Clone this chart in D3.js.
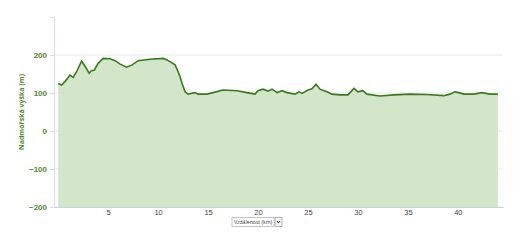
<!DOCTYPE html>
<html><head><meta charset="utf-8">
<script src="https://cdn.jsdelivr.net/npm/d3@7/dist/d3.min.js"></script>
<style>body{margin:0;background:#fff;}svg{display:block;font-family:"Open Sans","DejaVu Sans",sans-serif;}</style>
</head><body>
<svg id="c" width="520" height="240"></svg>
<script>
const distances = [0,0.34,0.67,1.0,1.17,1.5,1.84,2.34,2.67,3.1,3.34,3.6,4.0,4.5,5.2,5.7,6.2,6.85,7.4,8.0,9.2,10.5,10.9,11.7,12.0,12.2,12.4,12.7,13.0,13.7,14.0,14.9,15.5,16.5,17.9,18.9,19.7,20.0,20.5,21.0,21.4,21.9,22.4,22.9,23.7,24.1,24.4,25.0,25.4,25.8,26.2,26.9,27.4,28.2,29.0,29.6,30.0,30.5,30.9,32.2,33.6,35.2,36.9,38.6,39.2,39.7,40.1,40.6,41.6,42.4,43.2,44.0];
const elevations = [125,121,130,141,147,141,156,184,171,152,159,160,178,191,190,185,176,168,174,185,189,191,187,174,156,143,125,103,97,101,97,97,101,108,106,101,97,106,110,105,110,101,106,101,97,103,99,108,111,123,110,103,97,95,95,112,103,106,97,92,95,97,96,93,97,103,101,97,97,101,97,97];
const yTicks = [-200,-100,0,100,200];
const xTicks = [5,10,15,20,25,30,35,40];
const yTitle = "Nadmořská výška (m)";
const xTitle = "Vzdálenost (km)";

const svg = d3.select("#c");
const pL = 54, pR = 503, pT = 17, pB = 207;
const x = d3.scaleLinear().domain([-0.42, 44.52]).range([pL, pR]);
const y = d3.scaleLinear().domain([-200, 300]).range([pB, pT]);
const green = "#558a35";

// gridlines
svg.append("g").selectAll("line").data(yTicks).join("line")
  .attr("x1", pL).attr("x2", pR)
  .attr("y1", d => y(d)).attr("y2", d => y(d))
  .attr("stroke", "#e8e8e8").attr("stroke-width", 1);

const pts = distances.map((d,i) => [d, elevations[i]]);
svg.append("path").datum(pts)
  .attr("d", d3.area().x(d => x(d[0])).y0(y(-200)).y1(d => y(d[1])))
  .attr("fill", "#d3e6c9");
svg.append("path").datum(pts)
  .attr("d", d3.line().x(d => x(d[0])).y(d => y(d[1])))
  .attr("fill", "none").attr("stroke", "#3a7a1e").attr("stroke-width", 1.6);

// y axis
const ya = svg.append("g").attr("transform", `translate(${pL},0)`)
  .call(d3.axisLeft(y).tickValues(yTicks).tickSize(4).tickPadding(3).tickFormat(d3.format("d")));
ya.select(".domain").attr("stroke", "#d8dde6");
ya.selectAll(".tick line").attr("stroke", "#d8dde6");
ya.selectAll("text").attr("fill", green).attr("font-size", 8).attr("font-weight", "bold");

// x axis
const xa = svg.append("g").attr("transform", `translate(0,${pB})`)
  .call(d3.axisBottom(x).tickValues(xTicks).tickSize(0).tickPadding(3));
xa.select(".domain").attr("stroke", "#c8d4e0");
xa.selectAll("text").attr("fill", "#444").attr("font-size", 7.5);

// y title
svg.append("text").attr("transform", `translate(24,${y(50)}) rotate(-90)`)
  .attr("text-anchor", "middle").attr("fill", green).attr("font-size", 7).attr("font-weight", "bold")
  .text(yTitle);

// x title select box
const bx = 232, by = 217.5;
svg.append("rect").attr("x", bx).attr("y", by).attr("width", 42).attr("height", 9)
  .attr("fill", "#fff").attr("stroke", "#aaa").attr("stroke-width", 0.7);
svg.append("text").attr("x", bx + 2).attr("y", by + 6.7)
  .attr("font-size", 6).attr("fill", "#333")
  .attr("textLength", 38).attr("lengthAdjust", "spacingAndGlyphs").text(xTitle);
svg.append("rect").attr("x", bx + 43).attr("y", by).attr("width", 7).attr("height", 9)
  .attr("fill", "#f4f4f4").attr("stroke", "#999").attr("stroke-width", 0.7);
svg.append("path").attr("d", `M${bx+45},${by+3.5} L${bx+46.5},${by+5.5} L${bx+48},${by+3.5}`)
  .attr("fill", "none").attr("stroke", "#333").attr("stroke-width", 0.9);
</script>
</body></html>
